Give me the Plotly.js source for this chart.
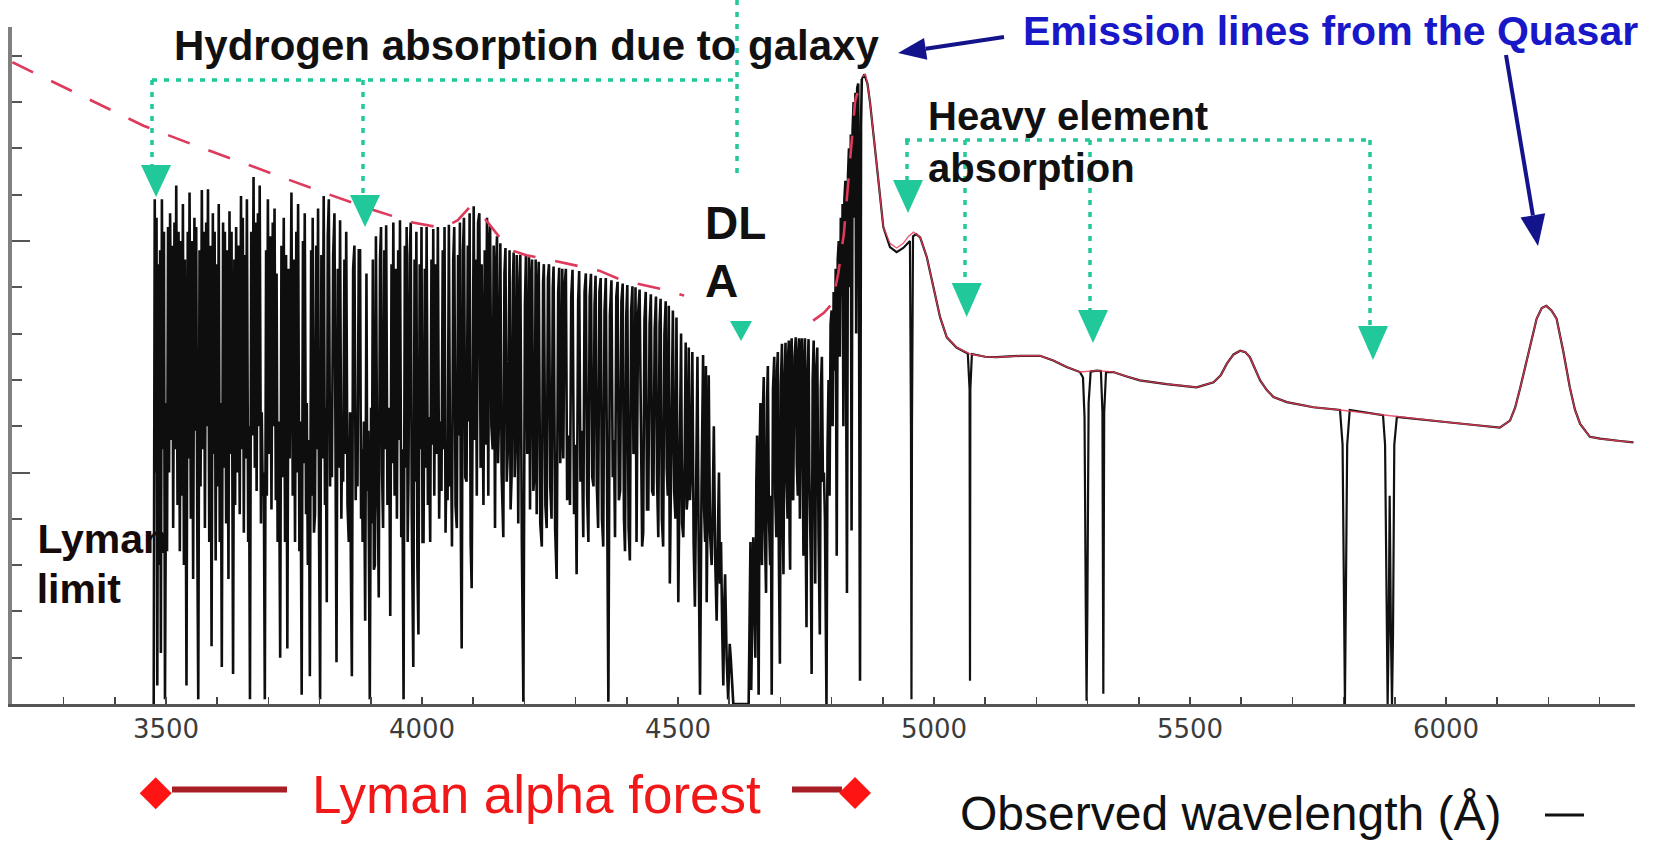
<!DOCTYPE html>
<html><head><meta charset="utf-8">
<script src="https://cdn.plot.ly/plotly-3.0.1.min.js"></script>
<style>html,body{margin:0;padding:0;background:#fff;}#chart{width:1663px;height:841px;}</style>
</head><body><div id="chart"></div>
<script>
// ---------- DATA (wavelength in Å, flux in arbitrary units) ----------
const tickValues = [3200,3300,3400,3500,3600,3700,3800,3900,4000,4100,4200,4300,4400,4500,4600,4700,4800,4900,5000,5100,5200,5300,5400,5500,5600,5700,5800,5900,6000,6100,6200,6300];
const tickLabels = ['','','','3500','','','','','4000','','','','','4500','','','','','5000','','','','','5500','','','','','6000','','',''];

// Lyman-alpha forest, blue part
const forestBluePairs = [
[3476,0],[3478,10.9],[3480,5.0],[3481.5,10.5],[3483,0.4],[3485,9.5],[3487,3.0],[3488.5,9.8],[3490,1.1],[3492,10.9],[3494,5.5],[3496,10.2],[3498,0.1],[3500.5,6.5],[3502,3.3],[3504,10.3],[3506,5.0],[3508,10.6],[3511,5.7],[3512.5,9.9],[3514,3.8],[3516.5,10.4],[3518,5.5],[3520,11.2],[3522.5,4.3],[3524.5,10.2],[3527,3.3],[3529.5,10.0],[3531,4.5],[3533,10.8],[3535,3.0],[3537,9.6],[3540,0.4],[3542.5,10.2],[3544,5.3],[3546,11.05],[3548.5,4.0],[3550.5,10.0],[3553,2.7],[3555.5,10.5],[3557,5.9],[3559,10.3],[3561,4.0],[3563,0.1],[3565.5,9.8],[3567.5,4.7],[3570,11.1],[3572.5,5.5],[3574,10.2],[3576,3.8],[3578.5,10.4],[3580,6.0],[3582,11.12],[3584.5,3.5],[3586.5,9.9],[3589,1.25],[3591.5,10.6],[3593,5.4],[3595,10.2],[3597,3.1],[3599,9.5],[3601,4.7],[3603,10.8],[3605,3.5],[3607,6.5],[3609,0.8],[3611.5,10.4],[3613,5.1],[3615,10.2],[3617.5,3.9],[3619.5,9.8],[3622,2.7],[3624,10.64],[3626,5.4],[3628,10.2],[3631,0.65],[3633.5,9.6],[3635,4.3],[3637,10.3],[3639.5,5.0],[3641.5,9.9],[3644,4.1],[3646.5,10.97],[3648,5.5],[3650,10.5],[3652,3.7],[3654,9.7],[3656,5.3],[3658,10.9],[3660.5,3.5],[3662,6.0],[3664,0.1],[3666.5,10.2],[3668.5,5.8],[3671,11.38],[3673.5,5.1],[3675,10.4],[3677,4.6],[3679.5,10.6],[3681,6.0],[3683,11.2],[3685.5,3.9],[3687,6.3],[3689,4.5],[3691,5.0],[3693,0.1],[3695.5,9.8],[3697,4.5],[3699,10.9],[3701.5,5.4],[3703.5,10.1],[3706,4.2],[3708.5,10.4],[3710,6.0],[3712,10.7],[3714.5,4.4],[3716,9.3],[3718,3.5],[3720.5,6.1],[3723,1.0],[3725.5,9.9],[3727,4.9],[3730,10.5],[3732.5,3.5],[3734.5,9.7],[3737,1.2],[3739.5,9.4],[3741.5,5.3],[3745,11.05],[3747.5,4.5],[3749.5,9.6],[3752,3.5],[3754.5,10.2],[3756,5.0],[3758,10.8],[3760.5,3.3],[3762.5,6.1],[3765,0.2],[3767.5,10.0],[3769,5.2],[3771,10.6],[3773.5,4.1],[3775,6.5],[3777,3.0],[3779,5.7],[3781,0.6],[3783.5,9.8],[3785,4.5],[3786.5,10.5],[3789,3.7],[3791,4.1],[3793.5,9.9],[3795,5.5],[3797,10.7],[3799,3.5],[3801,0.1],[3803.5,9.7],[3805.5,5.3],[3808,10.97],[3810.5,4.3],[3812,6.4],[3814,2.2],[3816,10.1],[3818,10.9],[3820.5,4.7],[3822,6.6],[3824,4.9],[3826.5,9.7],[3829,10.6],[3831,3.5],[3833,0.9],[3835.5,9.4],[3837.5,5.1],[3840,10.45],[3842.5,4.0],[3844,5.8],[3846,4.8],[3848.5,9.6],[3850,5.4],[3852,10.2],[3854.5,4.3],[3857,3.5],[3859.5,6.3],[3861,3.1],[3863,0.6],[3865.5,9.4],[3868,9.9],[3870.5,4.4],[3872,5.8],[3874,4.7],[3876.5,9.8],[3879,9.8],[3881,4.0],[3882.5,5.5],[3884,3.5],[3886.5,6.1],[3889,1.8],[3891.5,9.3],[3893,4.6],[3895,5.9],[3898,0.1],[3900.5,6.4],[3902,3.9],[3904,9.6],[3906,2.9],[3908,3.0],[3910,10.1],[3912.5,4.8],[3914,4.0],[3915.5,2.3],[3918,9.6],[3920,10.3],[3922,5.0],[3924,3.8],[3926.5,9.8],[3928,5.5],[3930,10.34],[3932.5,4.3],[3934.5,6.4],[3936.5,4.8],[3938,1.9],[3940.5,9.5],[3942,5.2],[3944,10.4],[3946.5,4.5],[3948.5,9.4],[3951,4.0],[3953.5,9.8],[3955,5.7],[3957,10.45],[3959.5,3.6],[3961.5,5.5],[3964,0.1],[3966.5,9.9],[3968,5.1],[3970,10.3],[3972,3.5],[3973.5,4.8],[3976,9.7],[3978,10.4],[3980,4.1],[3983,0.8],[3985.5,9.6],[3987,4.8],[3989,10.2],[3991,3.0],[3993,1.5],[3995.5,9.5],[3997,5.5],[3999,10.3],[4001,3.5],[4003,3.5],[4005.5,9.4],[4007,5.1],[4009,10.3],[4011.5,4.3],[4013.5,6.2],[4016,3.5],[4018.5,9.6],[4020,5.6],[4022,10.26],[4024,4.5],[4026.5,9.5],[4028.5,5.4],[4031,10.3],[4033.5,4.0],[4035.5,6.1],[4038,4.6],[4040.5,9.8],[4042,5.5],[4044,10.3],[4046,3.7],[4048,5.5],[4050,4.4],[4052.5,10.35],[4055,4.7],[4056.5,6.0],[4058.5,3.4],[4061,9.6],[4063,10.3],[4065.5,4.3],[4068,3.8],[4070.5,9.7],[4072,5.8],[4074,10.4],[4076,3.5],[4077.5,1.2],[4080,9.8],[4082,10.5],[4084.5,4.9],[4087,4.8],[4089.5,9.9],[4091,6.1],[4093,10.6],[4095,3.5],[4097,2.5],[4099.5,10.2],[4101,10.75],[4103.5,5.7],[4105,9.6],[4107,4.5],[4109.5,10.4],[4112,10.6],[4114.5,5.1],[4116.5,9.5],[4120,4.3],[4122.5,9.8],[4124,5.6],[4127,10.5],[4129.5,4.5],[4131,9.9]
];
// Lyman-alpha forest, red part down to the damped absorber
const forestRedPairs = [
[4133,10.32],[4135.5,6.0],[4138,5.5],[4140,9.9],[4142.6,3.8],[4145,9.6],[4146.5,10.1],[4148.5,5.2],[4150,6.0],[4153,9.95],[4155.5,5.0],[4158.8,3.6],[4161,9.3],[4163,9.85],[4165.5,4.8],[4168,5.6],[4171,9.8],[4173,4.2],[4175,4.9],[4177.5,9.1],[4179,9.75],[4181,4.9],[4183,5.9],[4185,9.7],[4186.5,5.0],[4188,3.9],[4190.5,9.2],[4192,9.7],[4195,3.5],[4198,0.05],[4201,8.6],[4203,9.69],[4205.5,5.4],[4207,6.0],[4209,9.65],[4211,4.2],[4213.5,9.2],[4215,9.6],[4217.5,4.6],[4220,5.0],[4222,9.6],[4224,4.1],[4226.5,9.0],[4228,9.55],[4231,3.9],[4234,3.4],[4236.5,9.1],[4238,9.5],[4241,4.3],[4243.5,3.8],[4246,9.2],[4248,9.5],[4250.5,4.7],[4253,4.0],[4255.5,9.0],[4257,9.45],[4260,3.8],[4263,2.7],[4266,8.9],[4268,9.42],[4270,5.2],[4272,6.1],[4274,9.4],[4276,5.3],[4278.5,9.0],[4281,9.4],[4283.5,4.4],[4286,5.8],[4289,4.3],[4291.5,8.8],[4294,9.38],[4297,4.1],[4299.5,5.6],[4302,2.8],[4305,8.7],[4307,9.35],[4309.5,4.8],[4312,5.9],[4315,3.6],[4317.5,8.9],[4320,9.3],[4322.5,4.5],[4325,3.5],[4327.5,8.8],[4330,9.29],[4332.5,4.9],[4335,4.7],[4337,8.6],[4339,9.25],[4341.5,4.7],[4344,3.8],[4346.5,8.9],[4349,9.2],[4351.5,4.0],[4354,3.4],[4356.5,8.5],[4359,9.2],[4361.5,3.5],[4364,0.05],[4367,8.4],[4370,9.15],[4372.5,4.9],[4375,5.7],[4377,3.6],[4379.5,8.8],[4382,9.12],[4384.5,4.4],[4387,4.6],[4389.5,8.7],[4392,9.08],[4394.5,4.0],[4396.5,3.3],[4399,8.4],[4401,9.05],[4403.5,3.8],[4406,3.1],[4408.5,8.5],[4411,9.02],[4413,5.4],[4415,5.5],[4417,9.0],[4419,3.5],[4422,8.4],[4425,8.95],[4428,4.3],[4430,3.4],[4432,3.7],[4434.5,8.3],[4437,8.9],[4439.5,4.2],[4442,4.2],[4444.5,8.2],[4447,8.85],[4449.5,4.6],[4452,4.5],[4454.5,8.1],[4457,8.8],[4459,4.9],[4461.5,3.6],[4464,8.2],[4466,8.75],[4468.5,4.0],[4471,3.4],[4473.5,8.0],[4476,8.7],[4478,5.1],[4480,4.5],[4482,8.6],[4484,2.6],[4487,5.6],[4490,8.5],[4492.5,4.6],[4495,4.0],[4497,8.35],[4500.6,2.2],[4503.5,5.4],[4506,8.0],[4508,3.9],[4510.4,3.6],[4513,5.3],[4515,7.81],[4517,4.2],[4519,4.5],[4521,7.7],[4523.4,4.4],[4526,5.2],[4528,7.6],[4530.5,3.5],[4533,2.1],[4535.5,4.8],[4538,7.5],[4540.5,3.1],[4543,0.2],[4546,4.7],[4549,7.54],[4551,4.2],[4553,3.5],[4554.5,7.3],[4556,2.2],[4558,4.4],[4560,7.1],[4562.5,3.7],[4565.7,3.0],[4568,4.4],[4570,6.0],[4572.5,3.2],[4575.5,1.8],[4578,3.7],[4580,5.0],[4582,2.6],[4584,3.5],[4586.5,1.5],[4588.5,0.4],[4590.5,2.2],[4592,2.8],[4595,1.0],[4598,0.1],[4601,1.3],[4603,1.0],[4608,0]
];
// damped Lyman-alpha trough and recovery
const dlaPairs = [
[4638,0],[4640,2.0],[4641.5,3.5],[4643,0.3],[4645,2.5],[4647,3.6],[4649,2.2],[4651,1.0],[4653,4.8],[4654.5,5.8],[4656,2.5],[4657.5,0.2],[4659.5,5.5],[4661,6.5],[4662.5,3.6],[4664,3.0],[4666,6.4],[4667.5,7.06],[4669.5,3.8],[4672,2.4],[4674,6.6],[4675.5,7.3],[4677.5,4.1],[4680,3.0],[4681.5,4.5],[4683,0.2],[4685.5,6.8],[4688,7.5],[4690,4.5],[4692,3.6],[4693.5,7.2],[4695,7.6],[4697,3.2],[4699,0.87],[4701,6.9],[4703,7.78],[4704.5,4.0],[4706,2.8],[4708,7.0],[4710,7.8],[4712,4.8],[4714,4.0],[4715,7.5],[4716.5,7.85],[4718,3.6],[4719,2.9],[4720.5,7.3],[4722,7.9],[4723.5,4.5],[4725,4.4],[4727.5,7.5],[4730,7.92],[4732,5.2],[4734,4.5],[4735,7.6],[4736.5,7.9],[4738,4.0],[4740,7.4],[4742,7.9],[4743.5,4.3],[4745,3.2],[4746.5,7.3],[4748,7.9],[4749.5,3.6],[4751,1.66],[4753,7.1],[4755,7.88],[4756.5,5.0],[4758,4.0],[4759.5,3.0],[4761,0.65],[4763,7.0],[4765,7.85],[4766.5,4.0],[4768,2.6],[4770,7.2],[4772,7.7],[4774.5,3.6],[4777,1.5],[4779,6.8],[4781,7.5],[4783,4.8],[4785,5.0],[4787,4.0],[4790,0]
];
// Lyman-alpha emission peak
const peakPairs = [
[4792,5.5],[4794,7.0],[4796,4.5],[4798,8.2],[4800,8.5],[4802,6.0],[4804,8.9],[4806,7.2],[4808,9.4],[4810,3.2],[4812,9.6],[4814,10.0],[4816,7.5],[4818,10.5],[4820,8.8],[4821.5,10.8],[4823,6.0],[4825,10.9],[4827,11.3],[4828.5,8.0],[4830,2.4],[4832,11.4],[4834,12.0],[4836,9.0],[4837.5,12.3],[4839,3.75],[4841,12.4],[4843,13.0],[4845,10.5],[4846.5,13.2],[4848,8.0],[4850,13.3],[4852,13.4],[4853.5,9.0],[4855.5,0.5],[4857.5,12.5],[4859,13.5]
];
// red side of Lyman-alpha with metal absorption lines
const redSidePairs = [
[4864,13.6],[4870,13.4],[4875,13.0],[4888,11.66],[4901,10.3],[4914,9.87],[4927,9.76],[4940,9.85],[4947,9.94],[4953,10.0],[4955,6.0],[4956,0.1],[4957,6.0],[4959,10.1],[4965,10.15],[4973,10.08],[4986,9.65],[4999,9.0],[5012,8.35],[5025,7.92],[5044,7.7],[5066,7.57],[5069.5,6.8],[5070.3,0.5],[5071,6.8],[5074,7.56],[5100,7.5],[5122,7.49],[5145,7.5],[5168,7.52],[5207,7.52],[5233,7.42],[5259,7.28],[5285,7.17],[5291,7.05],[5294,6.2],[5296.5,2.0],[5298,0.07],[5299.5,2.0],[5302,6.5],[5306,7.18],[5318,7.2],[5326,7.19],[5329,6.3],[5330.7,0.22],[5332.4,6.3],[5336,7.17],[5350,7.17],[5375,7.08],[5402,6.99],[5454,6.91],[5513,6.84],[5546,6.95],[5560,7.1],[5572,7.35],[5585,7.55],[5598,7.63],[5608,7.6],[5617,7.49],[5627,7.25],[5637,6.99],[5650,6.78],[5663,6.63],[5689,6.52],[5741,6.41],[5793,6.35],[5798,5.6],[5801,2.0],[5802.6,0],[5804.2,2.0],[5807,5.6],[5812,6.35],[5877,6.24],[5881,5.6],[5884,1.5],[5886,0],[5888,1.5],[5890,4.5],[5892.5,1.5],[5894.5,0],[5896.5,1.5],[5899,5.6],[5904,6.2],[5950,6.14],[6008,6.08],[6060,6.02],[6105,5.97],[6125,6.12],[6135,6.4],[6145,6.83],[6155,7.3],[6164,7.77],[6177,8.32],[6187,8.55],[6196,8.6],[6206,8.5],[6216,8.32],[6229,7.62],[6242,6.83],[6252,6.35],[6262,6.05],[6281,5.77],[6301,5.73],[6340,5.68],[6366,5.65]
];
// unabsorbed quasar continuum (red): dashed part before and on the Ly-alpha peak
const contDashLeft = [[3200,13.86],[3456,12.49],[3541,12.13],[3717,11.41],[3807,11.05],[3905,10.67],[3982,10.40],[4040,10.28],[4070,10.45],[4092,10.72],[4106,10.66],[4125,10.45],[4150,10.1],[4175,9.8],[4204,9.69],[4256,9.58],[4301,9.47],[4346,9.36],[4391,9.15],[4436,9.04],[4480,8.93],[4512,8.82]];
const contDashRight = [[4764,8.28],[4785,8.45],[4801,8.65],[4813,9.3],[4824,10.16],[4835,11.6],[4846,13.03],[4860,13.55]];
// continuum (red solid) redward of the peak
const contPairs = [[4860,13.55],[4866,13.6],[4870,13.4],[4875,13.0],[4888,11.66],[4901,10.3],[4914,9.95],[4927,9.85],[4940,9.95],[4950,10.1],[4960,10.19],[4973,10.08],[4986,9.65],[4999,9.0],[5012,8.35],[5025,7.92],[5044,7.7],[5070,7.56],[5100,7.5],[5122,7.49],[5145,7.5],[5168,7.52],[5207,7.52],[5233,7.42],[5259,7.28],[5285,7.17],[5318,7.2],[5350,7.17],[5375,7.08],[5402,6.99],[5454,6.91],[5513,6.84],[5546,6.95],[5560,7.1],[5572,7.35],[5585,7.55],[5598,7.63],[5608,7.6],[5617,7.49],[5627,7.25],[5637,6.99],[5650,6.78],[5663,6.63],[5689,6.52],[5741,6.41],[5793,6.35],[5877,6.24],[5950,6.14],[6008,6.08],[6060,6.02],[6105,5.97],[6125,6.12],[6135,6.4],[6145,6.83],[6155,7.3],[6164,7.77],[6177,8.32],[6187,8.55],[6196,8.6],[6206,8.5],[6216,8.32],[6229,7.62],[6242,6.83],[6252,6.35],[6262,6.05],[6281,5.77],[6301,5.73],[6340,5.68],[6366,5.65]];

// ---------- LAYOUT HELPERS (pixel -> paper) ----------
const W = 1663, H = 841, PL = 12, PR = 1635, PT = 27, PB = 704;
const PXPERA = 0.512, PXPERU = 46.3;
const xRange = [5000 + (PL - 934) / PXPERA, 5000 + (PR - 934) / PXPERA];
const yRange = [0, (PB - PT) / PXPERU];
const px = x => (x - PL) / (PR - PL);
const py = y => (PB - y) / (PB - PT);
const xd = x => 5000 + (x - 934) / PXPERA;
const yd = y => (PB - y) / PXPERU;

const bluePairs = [].concat(forestBluePairs, forestRedPairs, dlaPairs, peakPairs);
const redPairs = [peakPairs[peakPairs.length - 1]].concat(redSidePairs);
const dashX = contDashLeft.map(p => p[0]).concat([null], contDashRight.map(p => p[0]));
const dashY = contDashLeft.map(p => p[1]).concat([null], contDashRight.map(p => p[1]));

const GREEN = '#21c899', NAVY = '#13138c';
const shapes = [];
function gline(x0, y0, x1, y1) {
  shapes.push({type:'line', xref:'paper', yref:'paper', x0:px(x0), y0:py(y0), x1:px(x1), y1:py(y1),
    line:{color:GREEN, width:3.5, dash:'5px,7px'}});
}
function tri(cx, top, bot, hw, color) {
  shapes.push({type:'path', xref:'paper', yref:'paper',
    path:`M${px(cx-hw)},${py(top)} L${px(cx+hw)},${py(top)} L${px(cx)},${py(bot)} Z`,
    fillcolor:color, line:{width:0}});
}
function poly(pts, color) {
  shapes.push({type:'path', xref:'paper', yref:'paper',
    path:'M' + pts.map(p => `${px(p[0])},${py(p[1])}`).join(' L') + ' Z', fillcolor:color, line:{width:0}});
}
function sline(x0, y0, x1, y1, color, w) {
  shapes.push({type:'line', xref:'paper', yref:'paper', x0:px(x0), y0:py(y0), x1:px(x1), y1:py(y1),
    line:{color:color, width:w}});
}
function arrow(tx, ty, hx, hy, len, hw, color, w) {
  const dx = hx - tx, dy = hy - ty, L = Math.hypot(dx, dy), ux = dx / L, uy = dy / L;
  const bx = hx - len * ux, by = hy - len * uy;
  sline(tx, ty, bx, by, color, w);
  poly([[hx, hy], [bx - hw * uy, by + hw * ux], [bx + hw * uy, by - hw * ux]], color);
}
// hydrogen brackets
gline(152, 80, 737, 80); gline(152, 80, 152, 165); gline(363, 80, 363, 195); gline(737, 0, 737, 173);
tri(156, 165, 197, 15, GREEN); tri(365, 195, 227, 15, GREEN); tri(741, 321, 341, 11, GREEN);
// heavy element brackets
gline(905, 140, 1370, 140); gline(907, 140, 907, 180); gline(965, 140, 965, 283); gline(1090, 140, 1090, 310); gline(1370, 140, 1370, 326);
tri(908, 180, 213, 15, GREEN); tri(966.7, 283, 317, 15, GREEN); tri(1093, 310, 343, 15, GREEN); tri(1373, 326, 360, 15, GREEN);
// blue arrows
arrow(1004, 37, 898, 53, 28, 11, NAVY, 4);
arrow(1506, 55, 1538, 246, 31, 12.5, NAVY, 4);
// Lyman alpha forest range marker
sline(172, 789.5, 287, 789.5, '#a81e26', 6);
sline(792, 789.5, 842, 789.5, '#a81e26', 6);
poly([[155.7, 777.3], [171.7, 793.3], [155.7, 809.3], [139.7, 793.3]], '#ff1414');
poly([[855, 777], [871, 793], [855, 809], [839, 793]], '#ff1414');
sline(1545, 815, 1584, 815, '#111', 3);

const bold = 'Liberation Sans, Arial, Helvetica, sans-serif';
function ann(text, x, y, size, color) {
  return {text:text, xref:'paper', yref:'paper', x:px(x), y:py(y), xanchor:'left', yanchor:'middle',
    showarrow:false, font:{family:bold, size:size, color:color}, borderpad:0};
}
const annotations = [
  ann('<b>Hydrogen absorption due to galaxy</b>', 173, 45.4, 42, '#111111'),
  ann('<b>Emission lines from the Quasar</b>', 1022, 30.8, 41, '#1818c8'),
  ann('<b>Heavy element</b>', 927, 116.1, 40, '#111111'),
  ann('<b>absorption</b>', 927, 167.8, 40, '#111111'),
  ann('<b>DL</b>', 704, 222.7, 46, '#111111'),
  ann('<b>A</b>', 704, 281, 46, '#111111'),
  ann('Lyman alpha forest', 311, 794.6, 53, '#f01818'),
  ann('Observed wavelength (Å)', 959, 813.4, 48, '#111111')
];

const traces = [
  {type:'scatter', mode:'text', x:[xd(102.7), xd(78.8)], y:[yd(542.3), yd(592.3)],
   text:['<b>Lyman</b>', '<b>limit</b>'], textposition:'middle center',
   textfont:{family:bold, size:41, color:'#160a0a'}, hoverinfo:'skip', showlegend:false},
  {type:'scatter', mode:'lines', x:bluePairs.map(p => p[0]), y:bluePairs.map(p => p[1]),
   line:{color:'#0e0e0e', width:2.6}, hoverinfo:'skip', showlegend:false},
  {type:'scatter', mode:'lines', x:redPairs.map(p => p[0]), y:redPairs.map(p => p[1]),
   line:{color:'#111111', width:2.2}, hoverinfo:'skip', showlegend:false},
  {type:'scatter', mode:'lines', x:contPairs.map(p => p[0]), y:contPairs.map(p => p[1]),
   line:{color:'rgba(232,60,90,0.85)', width:1.4}, hoverinfo:'skip', showlegend:false},
  {type:'scatter', mode:'lines', x:dashX, y:dashY, connectgaps:false,
   line:{color:'#dd3a5c', width:2.6, dash:'23px,20px'}, hoverinfo:'skip', showlegend:false}
];

const layout = {
  width:W, height:H, margin:{l:PL, r:W-PR, t:PT, b:H-PB, pad:0},
  paper_bgcolor:'#ffffff', plot_bgcolor:'#ffffff', showlegend:false,
  xaxis:{range:xRange, tickmode:'array', tickvals:tickValues, ticktext:tickLabels,
    ticks:'inside', ticklen:7, tickwidth:1.5, tickcolor:'#444',
    showline:true, linecolor:'#555', linewidth:2.5, showgrid:false, zeroline:false,
    tickfont:{family:'DejaVu Sans, Verdana, sans-serif', size:26, color:'#3c3c3c'}, fixedrange:true},
  yaxis:{range:yRange, tickmode:'linear', tick0:0, dtick:5, ticks:'inside', ticklen:18, tickwidth:2, tickcolor:'#555',
    minor:{dtick:1, ticks:'inside', ticklen:10, tickwidth:2, tickcolor:'#555', showgrid:false},
    showticklabels:false, showline:true, linecolor:'#808080', linewidth:4, showgrid:false, zeroline:false, fixedrange:true},
  shapes:shapes, annotations:annotations
};
Plotly.newPlot('chart', traces, layout, {displayModeBar:false, staticPlot:true});
</script>
</body></html>
